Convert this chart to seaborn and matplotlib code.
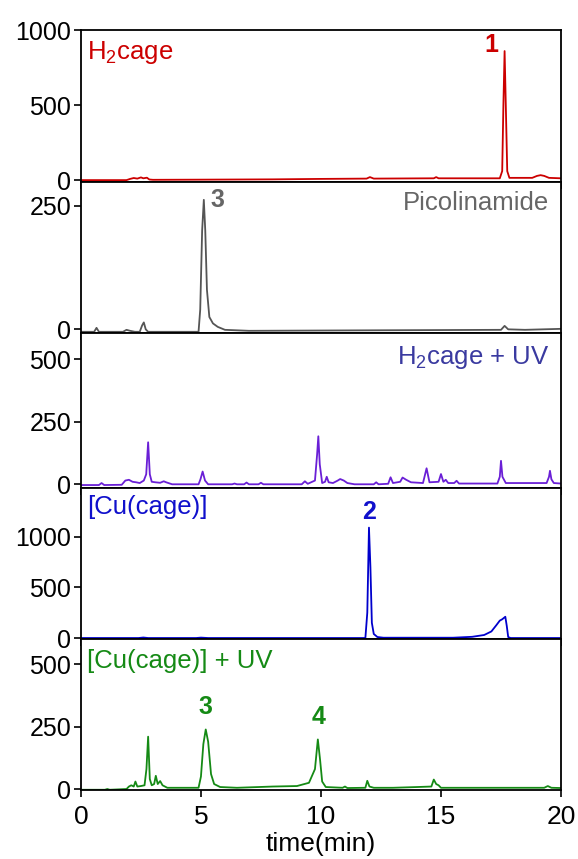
import matplotlib
matplotlib.use("Agg")
import matplotlib.pyplot as plt
import seaborn as sns
import pandas as pd

# ---------------- data (time in min, intensity) ----------------
h2cage_pts = [(0, 0), (1.9, 0), (2.05, 8), (2.2, 14), (2.35, 10), (2.5, 18), (2.6, 12),
              (2.75, 16), (2.85, 4), (3.0, 2), (5, 3), (8, 5), (10, 8), (11.9, 10),
              (12.04, 20), (12.2, 10), (14.7, 12), (14.8, 20), (14.9, 12), (17.45, 12),
              (17.55, 60), (17.6, 500), (17.65, 860), (17.7, 500), (17.76, 60), (17.85, 15),
              (18.8, 15), (19.0, 28), (19.15, 33), (19.3, 28), (19.5, 15), (20, 12)]

picol_pts = [(0, -5), (0.55, -5), (0.65, 3), (0.75, -5), (1.75, -5), (1.9, -1), (2.05, -3),
             (2.25, -5), (2.45, -5), (2.55, 8), (2.62, 14), (2.7, 0), (2.8, -5), (4.9, -5),
             (4.97, 40), (5.05, 200), (5.12, 262), (5.18, 200), (5.25, 80), (5.35, 25),
             (5.5, 12), (5.7, 5), (6.0, -1), (7, -3), (12, -2), (17.5, -1), (17.65, 7),
             (17.8, 0), (18.5, -1), (20, 1)]

h2cage_uv_pts = [(0, -3), (0.75, -3), (0.86, 5), (0.97, -3), (1.7, -2), (1.85, 15), (2.0, 18),
                 (2.15, 10), (2.3, 8), (2.45, 5), (2.62, 15), (2.72, 40), (2.80, 168),
                 (2.87, 40), (2.95, 10), (3.1, 8), (3.3, 6), (3.45, 12), (3.55, 8), (3.8, 0),
                 (4.9, 0), (4.98, 20), (5.07, 51), (5.17, 15), (5.3, 0), (6.3, 0), (6.4, 3),
                 (6.5, 0), (6.8, 0), (6.9, 7), (7.0, 0), (7.4, 0), (7.5, 6), (7.6, 0),
                 (9.2, 0), (9.33, 12), (9.45, 2), (9.75, 15), (9.84, 120), (9.89, 192),
                 (9.95, 80), (10.05, 5), (10.17, 10), (10.24, 30), (10.32, 8), (10.5, 5),
                 (10.7, 15), (10.8, 21), (10.95, 15), (11.1, 5), (11.4, 0), (12.2, 0),
                 (12.3, 8), (12.4, 0), (12.8, 2), (12.9, 28), (13.0, 5), (13.3, 10),
                 (13.4, 27), (13.55, 18), (13.75, 8), (14.25, 5), (14.4, 64), (14.52, 8),
                 (14.9, 10), (15.0, 41), (15.1, 10), (15.2, 18), (15.3, 5), (15.55, 5),
                 (15.65, 14), (15.75, 3), (17.35, 3), (17.45, 30), (17.5, 94), (17.56, 30),
                 (17.7, 5), (19.4, 5), (19.5, 30), (19.54, 54), (19.6, 20), (19.7, 5), (20, 3)]

cu_pts = [(0, 0), (2.4, 0), (2.6, 5), (2.8, 0), (4.8, 0), (5.0, 4), (5.3, 0), (11.85, 0),
          (11.93, 250), (12.0, 1090), (12.06, 700), (12.12, 150), (12.2, 40), (12.35, 10),
          (12.6, 3), (15.5, 3), (16.3, 12), (16.8, 30), (17.1, 65), (17.3, 125), (17.45, 172),
          (17.55, 185), (17.68, 210), (17.74, 120), (17.8, 10), (17.9, 0), (20, 0)]

cu_uv_pts = [(0, -3), (1.0, -3), (1.1, 0), (1.2, -3), (1.9, 0), (2.0, 10), (2.1, 15), (2.2, 10),
             (2.27, 30), (2.35, 10), (2.5, 12), (2.65, 15), (2.73, 80), (2.8, 210), (2.87, 40),
             (2.95, 15), (3.05, 20), (3.12, 53), (3.2, 20), (3.3, 32), (3.4, 15), (3.6, 5),
             (4.9, 5), (5.0, 50), (5.1, 180), (5.2, 239), (5.3, 190), (5.42, 60), (5.55, 20),
             (5.8, 8), (6.5, 5), (8.0, 10), (9.0, 12), (9.5, 25), (9.75, 80), (9.87, 199),
             (9.96, 120), (10.05, 30), (10.2, 8), (10.9, 5), (11.0, 10), (11.1, 4),
             (11.85, 5), (11.93, 33), (12.02, 10), (12.2, 5), (13, 5), (14, 8), (14.6, 10),
             (14.7, 38), (14.8, 20), (14.9, 15), (15.0, 5), (17, 5), (19.3, 5), (19.45, 12),
             (19.6, 5), (20, 4)]

panel_names = [r"H$_\mathregular{2}$cage", "Picolinamide", r"H$_\mathregular{2}$cage + UV",
               "[Cu(cage)]", "[Cu(cage)] + UV"]
panel_data = [h2cage_pts, picol_pts, h2cage_uv_pts, cu_pts, cu_uv_pts]
y_ticks = [[0, 500, 1000], [0, 250], [0, 250, 500], [0, 500, 1000], [0, 250, 500]]
y_limits = [(-13, 1000), (-6.5, 298), (-15, 607), (-7, 1481), (-4, 603)]
x_ticks = [0, 5, 10, 15, 20]

# compound labels: (panel index, text, time, intensity)
peak_labels = [(0, "1", 17.1, 900), (1, "3", 5.7, 262), (3, "2", 12.0, 1247),
               (4, "3", 5.2, 330), (4, "4", 9.88, 290)]

line_colors = ["#cc0000", "#555555", "#6a1fd6", "#0000cc", "#158a15"]
text_colors = ["#cc0000", "#666666", "#3a3aa0", "#1010cc", "#158a15"]
name_pos = [(0.012, 0.85, "left"), (0.976, 0.86, "right"), (0.976, 0.84, "right"),
            (0.012, 0.876, "left"), (0.012, 0.85, "left")]

# ---------------- plotting ----------------
sns.set_style("ticks")
plt.rcParams["font.family"] = ["Liberation Sans", "DejaVu Sans"]
plt.rcParams["mathtext.fontset"] = "custom"
plt.rcParams["mathtext.rm"] = "Liberation Sans"
plt.rcParams["mathtext.it"] = "Liberation Sans:italic"
plt.rcParams["mathtext.bf"] = "Liberation Sans:bold"
plt.rcParams["text.color"] = "black"
plt.rcParams["axes.labelcolor"] = "black"
plt.rcParams["xtick.color"] = "black"
plt.rcParams["ytick.color"] = "black"

fig = plt.figure(figsize=(5.78, 8.59), dpi=100)
gs = fig.add_gridspec(5, 1, left=0.14, right=0.9706, top=0.965, bottom=0.0803, hspace=0,
                      height_ratios=[152, 150.5, 155.5, 150.7, 151.3])
axes = [fig.add_subplot(gs[i]) for i in range(5)]

for i, ax in enumerate(axes):
    df = pd.DataFrame(panel_data[i], columns=["time", "signal"])
    sns.lineplot(data=df, x="time", y="signal", ax=ax, color=line_colors[i],
                 lw=1.3, estimator=None, sort=False)
    ax.set_xlim(0, 20)
    ax.set_ylim(*y_limits[i])
    ax.set_yticks(y_ticks[i])
    ax.set_xticks(x_ticks)
    ax.set_ylabel("")
    ax.set_xlabel("")
    for s in ax.spines.values():
        s.set_visible(True)
        s.set_linewidth(1.3)
        s.set_color("black")
    ax.tick_params(axis="both", direction="out", length=5, width=1.2, color="black",
                   labelcolor="black", labelsize=18, pad=2)
    if i < 4:
        ax.tick_params(axis="x", labelbottom=False)
    nx, ny, ha = name_pos[i]
    ax.text(nx, ny, panel_names[i], transform=ax.transAxes, ha=ha, va="center",
            fontsize=18.5, color=text_colors[i])

for (pi, txt, tx, ty) in peak_labels:
    axes[pi].text(tx, ty, txt, ha="center", va="center", fontsize=18, fontweight="bold",
                  color=text_colors[pi])

axes[4].set_xlabel("time(min)", fontsize=19, labelpad=2, color="black")
axes[4].tick_params(axis="x", labelsize=19, pad=6)

fig.savefig("out.png", dpi=100)
